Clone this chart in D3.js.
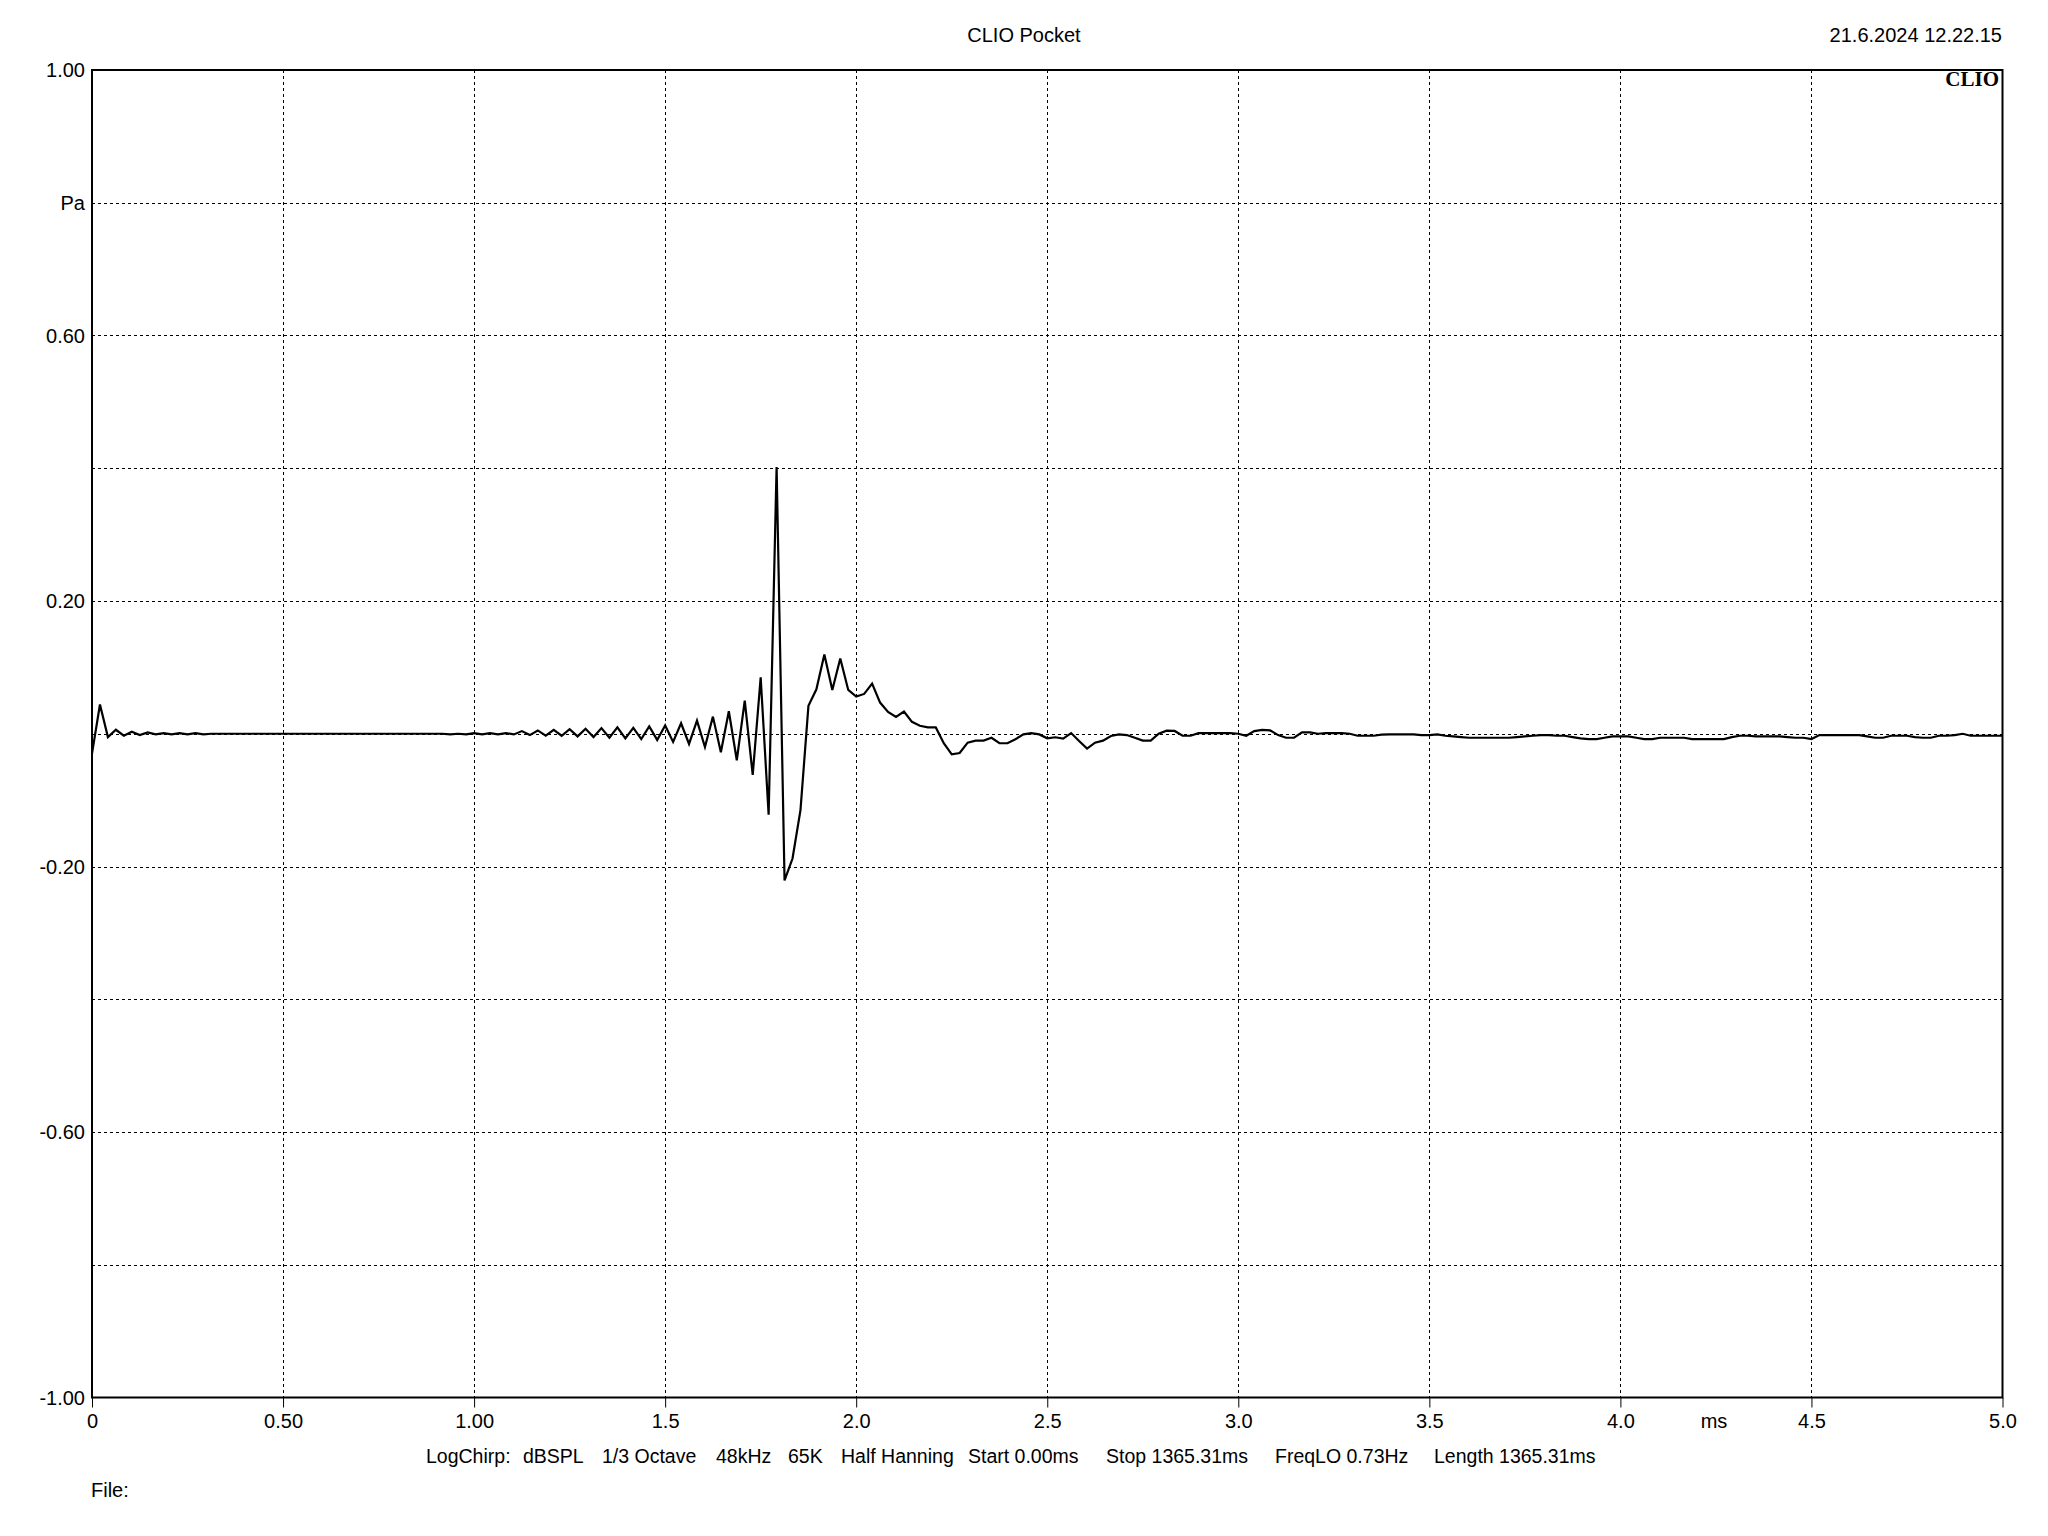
<!DOCTYPE html>
<html>
<head>
<meta charset="utf-8">
<script src="https://cdn.jsdelivr.net/npm/d3@7"></script>
<style>
  html, body { margin: 0; padding: 0; background: #fff; }
  svg { display: block; }
  text { font-family: "Liberation Sans", Arial, sans-serif; fill: #000; }
</style>
</head>
<body>
<script>
// ---- Data ----
const title = "CLIO Pocket";
const dateStamp = "21.6.2024 12.22.15";
const xTickValues = [0, 0.5, 1.0, 1.5, 2.0, 2.5, 3.0, 3.5, 4.0, 4.5, 5.0];
const xTickLabels = ["0", "0.50", "1.00", "1.5", "2.0", "2.5", "3.0", "3.5", "4.0", "4.5", "5.0"];
const yGridValues = [1.0, 0.8, 0.6, 0.4, 0.2, 0.0, -0.2, -0.4, -0.6, -0.8, -1.0];
const yTickLabels = [[1.0, "1.00"], [0.8, "Pa"], [0.6, "0.60"], [0.2, "0.20"], [-0.2, "-0.20"], [-0.6, "-0.60"], [-1.0, "-1.00"]];
const xUnit = "ms";
const infoItems = ["LogChirp:", "dBSPL", "1/3 Octave", "48kHz", "65K", "Half Hanning", "Start 0.00ms", "Stop 1365.31ms", "FreqLO 0.73Hz", "Length 1365.31ms"];
const fileLabel = "File:";
const sampleRateKHz = 48; // samples per ms
// impulse response, Pa, one value per sample (0 .. 5 ms)
const pressure = [
  -0.030, 0.044, -0.005, 0.006, -0.003, 0.003, -0.002, 0.002, -0.001, 0.001,
  -0.001, 0.001, -0.001, 0.001, -0.001, 0.000, 0.000, 0.000, 0.000, 0.000,
  0.000, 0.000, 0.000, 0.000, 0.000, 0.000, 0.000, 0.000, 0.000, 0.000,
  0.000, 0.000, 0.000, 0.000, 0.000, 0.000, 0.000, 0.000, 0.000, 0.000,
  0.000, 0.000, 0.000, 0.000, 0.000, -0.001, 0.000, -0.001, 0.001, -0.001,
  0.001, -0.001, 0.001, -0.001, 0.004, -0.002, 0.005, -0.003, 0.006, -0.003,
  0.007, -0.004, 0.0075, -0.005, 0.0085, -0.006, 0.0095, -0.007, 0.009, -0.008,
  0.011, -0.0093, 0.0125, -0.0123, 0.0158, -0.0154, 0.0198, -0.0199, 0.0258, -0.0279,
  0.0339, -0.0399, 0.050, -0.062, 0.085, -0.122, 0.402, -0.221, -0.188, -0.115,
  0.042, 0.067, 0.1195, 0.066, 0.1135, 0.066, 0.056, 0.060, 0.0755, 0.047,
  0.033, 0.0255, 0.0335, 0.018, 0.012, 0.0095, 0.0095, -0.0143, -0.031, -0.029,
  -0.0134, -0.0104, -0.0104, -0.006, -0.0143, -0.0143, -0.0083, -0.001, 0.001, -0.001,
  -0.0068, -0.0053, -0.0073, 0.001, -0.011, -0.0224, -0.0134, -0.0104, -0.0033, -0.001,
  -0.002, -0.006, -0.0104, -0.0104, 0.000, 0.0047, 0.0042, -0.003, -0.003, 0.001,
  0.001, 0.001, 0.001, 0.001, 0.000, -0.003, 0.004, 0.0057, 0.005, -0.002,
  -0.006, -0.006, 0.002, 0.002, 0.000, 0.001, 0.001, 0.001, 0.000, -0.003,
  -0.003, -0.003, -0.0013, -0.001, -0.001, -0.001, -0.001, -0.002, -0.002, -0.001,
  -0.003, -0.004, -0.005, -0.006, -0.006, -0.006, -0.006, -0.006, -0.006, -0.005,
  -0.004, -0.003, -0.002, -0.002, -0.003, -0.003, -0.005, -0.007, -0.008, -0.008,
  -0.006, -0.004, -0.004, -0.004, -0.006, -0.008, -0.008, -0.006, -0.006, -0.006,
  -0.006, -0.008, -0.008, -0.008, -0.008, -0.008, -0.005, -0.003, -0.003, -0.004,
  -0.004, -0.004, -0.004, -0.005, -0.006, -0.006, -0.008, -0.002, -0.002, -0.002,
  -0.002, -0.002, -0.002, -0.004, -0.006, -0.006, -0.003, -0.003, -0.003, -0.005,
  -0.006, -0.006, -0.003, -0.003, -0.002, 0.000, -0.003, -0.003, -0.003, -0.003,
  -0.003
];
const infoX = [426, 523, 602, 716, 788, 841, 968, 1106, 1275, 1434];

// ---- Layout ----
const W = 2048, H = 1536;
const plot = { left: 92, right: 2002.5, top: 70, bottom: 1397.5 };

const svg = d3.select("body").append("svg").attr("width", W).attr("height", H);
svg.append("rect").attr("width", W).attr("height", H).attr("fill", "#fff");

const x = d3.scaleLinear().domain([0, 5]).range([plot.left, plot.right]);
const y = d3.scaleLinear().domain([-1, 1]).range([plot.bottom, plot.top]);

// grid
const grid = svg.append("g").attr("stroke", "#000").attr("stroke-width", 1).attr("stroke-dasharray", "3,3");
grid.selectAll("line.v").data(xTickValues.slice(1, -1)).join("line")
  .attr("x1", d => Math.round(x(d)) + 0.5).attr("x2", d => Math.round(x(d)) + 0.5)
  .attr("y1", plot.top).attr("y2", plot.bottom);
grid.selectAll("line.h").data(yGridValues.slice(1, -1)).join("line")
  .attr("y1", d => Math.round(y(d)) + 0.5).attr("y2", d => Math.round(y(d)) + 0.5)
  .attr("x1", plot.left).attr("x2", plot.right);

// bottom axis ticks + labels
const xAxis = d3.axisBottom(x).tickValues(xTickValues)
  .tickFormat((d, i) => xTickLabels[i]).tickSize(10).tickPadding(6);
const gx = svg.append("g").attr("transform", `translate(0,${plot.bottom})`).call(xAxis);
gx.select(".domain").remove();
gx.selectAll(".tick line").attr("stroke", "#000").attr("stroke-width", 1);
gx.selectAll(".tick text").attr("font-size", 20).attr("font-family", '"Liberation Sans", Arial, sans-serif')
  .attr("fill", "#000").attr("dy", "0.71em");

svg.append("text").attr("x", 1714).attr("y", 1421).attr("text-anchor", "middle")
  .attr("dominant-baseline", "central").attr("font-size", 20).text(xUnit);

// y labels
svg.append("g").selectAll("text").data(yTickLabels).join("text")
  .attr("x", 85).attr("y", d => y(d[0])).attr("text-anchor", "end")
  .attr("dominant-baseline", "central").attr("font-size", 20).text(d => d[1]);

// curve
svg.append("clipPath").attr("id", "clip").append("rect")
  .attr("x", plot.left).attr("y", plot.top).attr("width", plot.right - plot.left).attr("height", plot.bottom - plot.top);
const line = d3.line().x((d, i) => x(i / sampleRateKHz)).y(d => y(d));
svg.append("path").datum(pressure).attr("clip-path", "url(#clip)")
  .attr("d", line).attr("fill", "none").attr("stroke", "#000").attr("stroke-width", 2.2)
  .attr("stroke-linejoin", "miter");

// frame
svg.append("rect").attr("x", plot.left).attr("y", plot.top)
  .attr("width", plot.right - plot.left).attr("height", plot.bottom - plot.top)
  .attr("fill", "none").attr("stroke", "#000").attr("stroke-width", 2);

// headings
svg.append("text").attr("x", 1024).attr("y", 35).attr("text-anchor", "middle")
  .attr("dominant-baseline", "central").attr("font-size", 20).text(title);
svg.append("text").attr("x", 2002).attr("y", 35).attr("text-anchor", "end")
  .attr("dominant-baseline", "central").attr("font-size", 20).text(dateStamp);
svg.append("text").attr("x", 1999).attr("y", 86).attr("text-anchor", "end")
  .attr("font-size", 21).attr("font-weight", "bold")
  .style("font-family", '"Liberation Serif", "DejaVu Serif", serif').text("CLIO");

// info line
svg.append("g").selectAll("text").data(infoItems).join("text")
  .attr("x", (d, i) => infoX[i]).attr("y", 1456).attr("dominant-baseline", "central")
  .attr("font-size", 19.5).text(d => d);
svg.append("text").attr("x", 91).attr("y", 1490).attr("dominant-baseline", "central")
  .attr("font-size", 20).text(fileLabel);
</script>
</body>
</html>
